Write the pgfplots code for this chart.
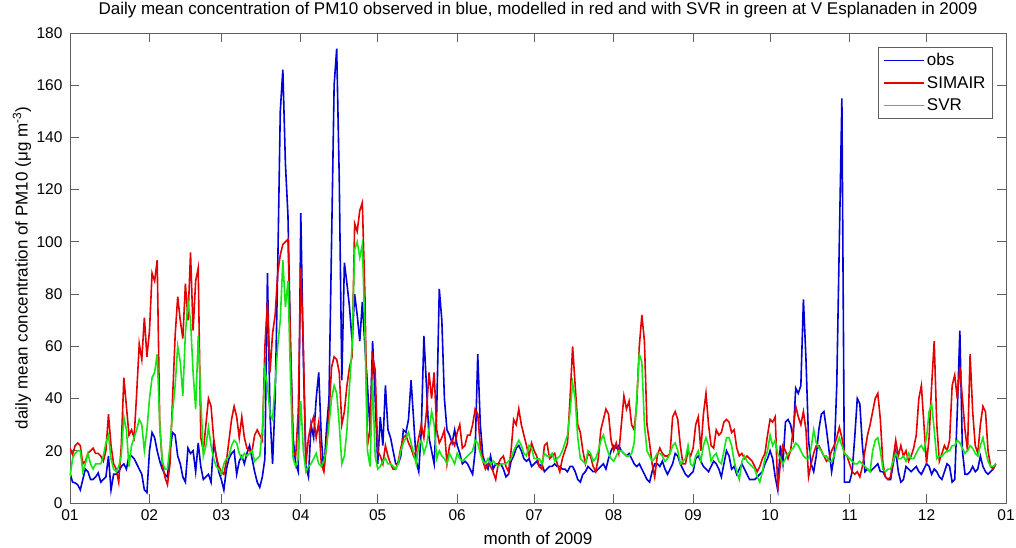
\documentclass[border=0pt]{standalone}
\usepackage{pgfplots}
\pgfplotsset{compat=1.18}
\usepackage{pgfplotstable}
\usepackage{fontspec}
\setmainfont{Liberation Sans}
\definecolor{mblue}{RGB}{0,0,215}
\definecolor{mred}{RGB}{228,0,0}
\definecolor{mgreen}{RGB}{20,230,20}
\definecolor{axgray}{RGB}{95,95,95}

\pgfplotstableread[row sep=\\]{v\\
11.5\\ 8\\ 7.7\\ 7\\ 5\\ 9\\ 13\\ 12\\ 9\\ 9\\
10\\ 11.5\\ 8\\ 9\\ 10\\ 18\\ 5\\ 11\\ 11\\ 12\\
14\\ 15\\ 13\\ 18\\ 18\\ 17\\ 15\\ 13\\ 11\\ 5\\
4\\ 20\\ 27\\ 25\\ 20\\ 16\\ 13\\ 11\\ 10\\ 20\\
27\\ 26\\ 18\\ 15\\ 10\\ 8\\ 21\\ 19\\ 20\\ 12\\
23\\ 14\\ 9\\ 10\\ 11\\ 8\\ 23\\ 18\\ 12\\ 9\\
5\\ 13\\ 17\\ 19\\ 20\\ 11\\ 16\\ 18\\ 15\\ 19\\
22\\ 17\\ 12\\ 8\\ 6\\ 10\\ 17\\ 88\\ 34\\ 15\\
40\\ 90\\ 150\\ 166\\ 130\\ 110\\ 60\\ 25\\ 15\\ 12\\
111\\ 55\\ 14\\ 10\\ 30\\ 25\\ 40\\ 50\\ 25\\ 12\\
28\\ 40\\ 100\\ 160\\ 174\\ 124\\ 47\\ 92\\ 84\\ 75\\
62\\ 80\\ 72\\ 62\\ 77\\ 60\\ 45\\ 28\\ 62\\ 40\\
15\\ 33\\ 22\\ 45\\ 28\\ 25\\ 20\\ 15\\ 15\\ 18\\
28\\ 27\\ 32\\ 47\\ 32\\ 16\\ 12\\ 28\\ 64\\ 45\\
25\\ 20\\ 15\\ 35\\ 82\\ 70\\ 40\\ 28\\ 26\\ 23\\
28\\ 22\\ 19\\ 15\\ 16\\ 15\\ 13\\ 11\\ 20\\ 57\\
30\\ 18\\ 15\\ 13\\ 18\\ 13\\ 15\\ 15\\ 15\\ 13\\
10\\ 11\\ 16\\ 18\\ 21\\ 22\\ 20\\ 17\\ 16\\ 17\\
14\\ 15\\ 16\\ 14\\ 15\\ 12\\ 13\\ 14\\ 14\\ 15\\
14\\ 14\\ 13\\ 13\\ 12\\ 14\\ 14\\ 12\\ 9\\ 8\\
11\\ 12\\ 14\\ 13\\ 12\\ 12\\ 13\\ 14\\ 15\\ 13\\
17\\ 20\\ 22\\ 21\\ 22\\ 20\\ 19\\ 18\\ 19\\ 17\\
15\\ 14\\ 15\\ 13\\ 11\\ 9\\ 8\\ 12\\ 15\\ 15\\
14\\ 16\\ 13\\ 11\\ 13\\ 15\\ 19\\ 18\\ 15\\ 13\\
11\\ 10\\ 11\\ 12\\ 17\\ 18\\ 16\\ 14\\ 13\\ 12\\
14\\ 16\\ 15\\ 13\\ 10\\ 15\\ 20\\ 18\\ 13\\ 14\\
11\\ 13\\ 15\\ 13\\ 11\\ 9\\ 9\\ 9\\ 10\\ 11\\
12\\ 15\\ 17\\ 20\\ 17\\ 10\\ 5\\ 22\\ 15\\ 31\\
32\\ 30\\ 25\\ 44\\ 42\\ 45\\ 78\\ 55\\ 24\\ 15\\
12\\ 18\\ 28\\ 34\\ 35\\ 28\\ 20\\ 12\\ 18\\ 45\\
100\\ 155\\ 8\\ 8\\ 8\\ 12\\ 25\\ 40\\ 38\\ 22\\
12\\ 13\\ 12\\ 13\\ 14\\ 15\\ 12\\ 12\\ 10\\ 9\\
9\\ 15\\ 20\\ 12\\ 8\\ 9\\ 14\\ 13\\ 12\\ 13\\
14\\ 12\\ 11\\ 13\\ 15\\ 14\\ 11\\ 13\\ 12\\ 10\\
9\\ 12\\ 15\\ 14\\ 8\\ 9\\ 35\\ 66\\ 20\\ 11\\
11\\ 12\\ 14\\ 12\\ 13\\ 18\\ 14\\ 12\\ 11\\ 12\\
13\\ 15\\
}\obs

\pgfplotstableread[row sep=\\]{v\\
21\\ 18.5\\ 22\\ 23\\ 22\\ 15\\ 16\\ 19\\ 20\\ 21\\
19\\ 19\\ 18\\ 16\\ 20\\ 34\\ 22\\ 15\\ 13\\ 8\\
22\\ 48\\ 37\\ 26\\ 28\\ 25\\ 42\\ 61\\ 55\\ 71\\
56\\ 66\\ 88\\ 85\\ 93\\ 30\\ 15\\ 10\\ 7\\ 15\\
40\\ 64\\ 79\\ 70\\ 63\\ 84\\ 70\\ 96\\ 66\\ 85\\
90\\ 25\\ 20\\ 30\\ 40\\ 37\\ 25\\ 18\\ 14\\ 12\\
11\\ 16\\ 24\\ 32\\ 37\\ 33\\ 25\\ 33\\ 25\\ 21\\
20\\ 20\\ 26\\ 28\\ 26\\ 24\\ 60\\ 77\\ 50\\ 65\\
72\\ 88\\ 95\\ 99\\ 100\\ 101\\ 60\\ 20\\ 18\\ 35\\
90\\ 60\\ 15\\ 25\\ 30\\ 33\\ 25\\ 31\\ 15\\ 12\\
22\\ 34\\ 52\\ 56\\ 55\\ 50\\ 30\\ 35\\ 45\\ 52\\
56\\ 107\\ 104\\ 112\\ 115\\ 80\\ 22\\ 28\\ 56\\ 51\\
20\\ 18\\ 15\\ 22\\ 18\\ 15\\ 13\\ 13\\ 16\\ 21\\
25\\ 26\\ 23\\ 21\\ 18\\ 20\\ 25\\ 30\\ 25\\ 35\\
50\\ 40\\ 50\\ 28\\ 23\\ 25\\ 28\\ 15\\ 22\\ 24\\
22\\ 27\\ 30\\ 21\\ 22\\ 26\\ 26\\ 30\\ 36\\ 34\\
22\\ 16\\ 13\\ 15\\ 14\\ 12\\ 9\\ 15\\ 17\\ 18\\
14\\ 12\\ 20\\ 32\\ 30\\ 36\\ 30\\ 26\\ 22\\ 18\\
23\\ 20\\ 18\\ 14\\ 13\\ 22\\ 23\\ 17\\ 18\\ 19\\
15\\ 12\\ 17\\ 20\\ 23\\ 40\\ 60\\ 45\\ 30\\ 27\\
20\\ 15\\ 19\\ 18\\ 14\\ 12\\ 17\\ 28\\ 32\\ 36\\
34\\ 24\\ 20\\ 23\\ 19\\ 30\\ 41\\ 36\\ 39\\ 30\\
28\\ 38\\ 60\\ 72\\ 62\\ 30\\ 23\\ 15\\ 10\\ 18\\
21\\ 19\\ 18\\ 18\\ 19\\ 33\\ 35\\ 32\\ 22\\ 15\\
15\\ 20\\ 18\\ 21\\ 30\\ 33\\ 20\\ 34\\ 42\\ 30\\
22\\ 21\\ 28\\ 26\\ 27\\ 31\\ 32\\ 31\\ 27\\ 28\\
21\\ 18\\ 19\\ 17\\ 18\\ 17\\ 16\\ 14\\ 12\\ 14\\
17\\ 19\\ 26\\ 32\\ 31\\ 33\\ 5\\ 15\\ 22\\ 20\\
17\\ 20\\ 28\\ 37\\ 33\\ 30\\ 35\\ 28\\ 10\\ 15\\
19\\ 22\\ 22\\ 20\\ 18\\ 16\\ 17\\ 20\\ 22\\ 25\\
29\\ 25\\ 19\\ 18\\ 15\\ 12\\ 11\\ 12\\ 10\\ 14\\
20\\ 26\\ 30\\ 35\\ 40\\ 42\\ 32\\ 15\\ 10\\ 9\\
10\\ 17\\ 24\\ 18\\ 22\\ 18\\ 20\\ 16\\ 18\\ 21\\
26\\ 40\\ 45\\ 30\\ 15\\ 25\\ 45\\ 62\\ 30\\ 16\\
19\\ 22\\ 20\\ 24\\ 45\\ 49\\ 40\\ 52\\ 40\\ 28\\
20\\ 57\\ 35\\ 22\\ 19\\ 30\\ 37\\ 35\\ 20\\ 14\\
13\\ 15\\
}\simair

\pgfplotstableread[row sep=\\]{v\\
10\\ 17\\ 19\\ 20\\ 20\\ 12\\ 15\\ 19\\ 15\\ 13\\
15\\ 15\\ 15\\ 18\\ 23\\ 26\\ 17\\ 13\\ 12\\ 14\\
18\\ 33\\ 28\\ 14\\ 22\\ 25\\ 28\\ 32\\ 30\\ 20\\
28\\ 40\\ 48\\ 50\\ 57\\ 30\\ 16\\ 13\\ 13\\ 22\\
35\\ 45\\ 60\\ 54\\ 41\\ 65\\ 77\\ 70\\ 50\\ 36\\
64\\ 40\\ 18\\ 22\\ 29\\ 22\\ 17\\ 14\\ 13\\ 11\\
15\\ 17\\ 18\\ 22\\ 24\\ 23\\ 19\\ 17\\ 19\\ 18\\
19\\ 20\\ 16\\ 17\\ 18\\ 28\\ 51\\ 45\\ 34\\ 32\\
46\\ 60\\ 70\\ 93\\ 75\\ 85\\ 47\\ 17\\ 14\\ 17\\
39\\ 20\\ 12\\ 14\\ 15\\ 17\\ 19\\ 15\\ 14\\ 16\\
21\\ 30\\ 40\\ 45\\ 42\\ 30\\ 15\\ 18\\ 28\\ 45\\
60\\ 97\\ 100\\ 94\\ 99\\ 66\\ 20\\ 14\\ 47\\ 18\\
13\\ 14\\ 16\\ 17\\ 15\\ 15\\ 14\\ 13\\ 15\\ 20\\
23\\ 25\\ 27\\ 23\\ 19\\ 15\\ 22\\ 24\\ 19\\ 22\\
28\\ 35\\ 30\\ 17\\ 20\\ 18\\ 17\\ 15\\ 19\\ 17\\
15\\ 19\\ 17\\ 16\\ 17\\ 18\\ 19\\ 20\\ 24\\ 23\\
19\\ 16\\ 15\\ 17\\ 15\\ 16\\ 15\\ 14\\ 15\\ 15\\
15\\ 16\\ 17\\ 20\\ 22\\ 24\\ 22\\ 19\\ 18\\ 22\\
21\\ 17\\ 17\\ 17\\ 15\\ 19\\ 18\\ 18\\ 19\\ 16\\
17\\ 18\\ 20\\ 23\\ 26\\ 35\\ 46\\ 40\\ 25\\ 17\\
16\\ 15\\ 20\\ 19\\ 16\\ 17\\ 20\\ 24\\ 26\\ 22\\
19\\ 17\\ 16\\ 18\\ 20\\ 20\\ 19\\ 18\\ 18\\ 19\\
23\\ 40\\ 57\\ 54\\ 30\\ 20\\ 18\\ 16\\ 17\\ 19\\
19\\ 18\\ 16\\ 17\\ 19\\ 22\\ 23\\ 20\\ 15\\ 16\\
17\\ 22\\ 15\\ 14\\ 18\\ 20\\ 16\\ 22\\ 25\\ 22\\
16\\ 18\\ 19\\ 16\\ 15\\ 20\\ 25\\ 25\\ 22\\ 16\\
12\\ 9\\ 16\\ 18\\ 16\\ 15\\ 14\\ 13\\ 10\\ 8\\
12\\ 17\\ 20\\ 26\\ 22\\ 24\\ 19\\ 17\\ 15\\ 17\\
19\\ 20\\ 21\\ 23\\ 22\\ 20\\ 18\\ 17\\ 17\\ 21\\
28\\ 23\\ 21\\ 20\\ 18\\ 18\\ 16\\ 16\\ 18\\ 22\\
25\\ 22\\ 19\\ 18\\ 17\\ 16\\ 15\\ 15\\ 16\\ 15\\
14\\ 13\\ 12\\ 20\\ 24\\ 25\\ 20\\ 13\\ 12\\ 13\\
13\\ 16\\ 19\\ 17\\ 17\\ 18\\ 16\\ 19\\ 17\\ 17\\
19\\ 21\\ 22\\ 20\\ 25\\ 35\\ 38\\ 28\\ 17\\ 18\\
18\\ 19\\ 20\\ 20\\ 22\\ 22\\ 24\\ 23\\ 21\\ 19\\
20\\ 22\\ 21\\ 19\\ 18\\ 22\\ 25\\ 20\\ 16\\ 14\\
14\\ 15\\
}\svr

\begin{document}
\begin{tikzpicture}
\useasboundingbox (-70pt,-45pt) rectangle (946pt,503pt);
\begin{axis}[
  at={(0pt,0pt)}, anchor=south west,
  scale only axis, width=936pt, height=470pt,
  xmin=0, xmax=365, ymin=0, ymax=180,
  xtick={0,31,59,90,120,151,181,212,243,273,304,334,365},
  xticklabels={01,02,03,04,05,06,07,08,09,10,11,12,01},
  ytick={0,20,...,180},
  tick align=inside,
  major tick length=9pt,
  xtick style={axgray, line width=0.9pt},
  ytick style={axgray, line width=0.9pt},
  axis line style={axgray, line width=0.9pt},
  /pgf/number format/assume math mode=true,
  tick label style={font=\fontsize{15.5}{18}\selectfont},
  x tick label style={yshift=-3pt},
  y tick label style={xshift=-4pt},
  title={Daily mean concentration of PM10 observed in blue, modelled in red and with SVR in green at V Esplanaden in 2009},
  title style={font=\fontsize{17}{20}\selectfont, at={(axis description cs:0.5,1)}, anchor=base, yshift=12pt},
  xlabel={month of 2009},
  xlabel style={font=\fontsize{17}{20}\selectfont, at={(axis description cs:0.5,-0.0745)}, anchor=center},
  ylabel={daily mean concentration of PM10 (μg m\textsuperscript{-3})},
  ylabel style={font=\fontsize{17}{20}\selectfont, at={(axis description cs:-0.0513,0.5)}, rotate=0, anchor=center},
  legend style={at={(axis description cs:0.986,0.970)}, anchor=north east,
    draw=axgray, line width=0.8pt, fill=white,
    font=\fontsize{17}{20}\selectfont, inner xsep=5pt, inner ysep=4pt,
    row sep=5pt},
  legend cell align=left,
  legend image code/.code={\draw[#1, line width=1.3pt] (0pt,0pt) -- (40pt,0pt);},
  every axis plot/.append style={line width=1.6pt},
]
\addplot[mblue] table[x expr=\coordindex, y=v] {\obs};
\addlegendentry{obs}
\addplot[mred] table[x expr=\coordindex, y=v] {\simair};
\addlegendentry{SIMAIR}
\addplot[mgreen] table[x expr=\coordindex, y=v] {\svr};
\addlegendentry{SVR}
\end{axis}
\end{tikzpicture}
\end{document}
